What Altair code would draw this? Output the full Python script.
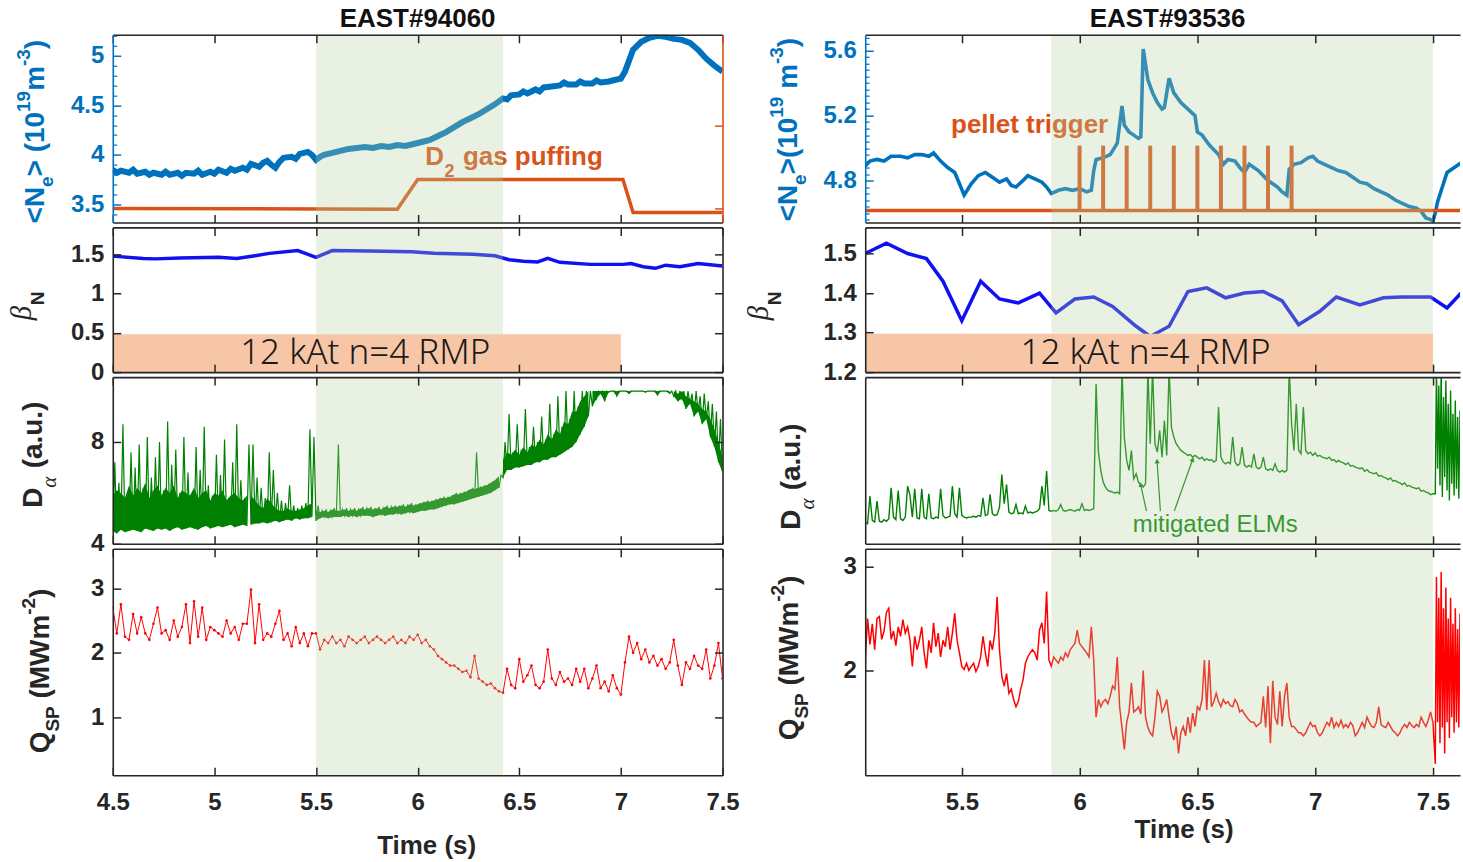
import altair as alt
import pandas as pd

# ---------------- styling ----------------
FONT = "Liberation Sans"
SERIF = "Liberation Serif"
DARK = "#262626"
NE_BLUE = "#0072BD"
ORANGE = "#D95319"
BETA_BLUE = "#1010F0"
GREEN = "#008000"
RED = "#FF0000"
SHADE = "#B3D2A0"
SHADE_OPACITY = 0.3
RMP_FILL = "#F7C6A6"
TICK = 8
LABEL_SIZE = 24

# ---------------- time axes ----------------
T_RANGE_L = [4.5, 7.5]
T_RANGE_R = [5.09, 7.615]
T_TICKS_L = [4.5, 5, 5.5, 6, 6.5, 7, 7.5]
T_TICKS_R = [5.5, 6, 6.5, 7, 7.5]
PHASE_L = [5.5, 6.42]
PHASE_R = [5.88, 7.5]

# ---------------- EAST#94060 ----------------
NE_L_DOM = [3.319, 5.211]
NE_L_TICKS = [3.5, 4, 4.5, 5]
NE_L_MINOR = [3.4, 3.6, 3.7, 3.8, 3.9, 4.1, 4.2, 4.3, 4.4, 4.6, 4.7, 4.8, 4.9, 5.1, 5.2]
NE_94060 = [
    (4.50, 3.85), (4.52, 3.82), (4.54, 3.84), (4.58, 3.82), (4.60, 3.85), (4.62, 3.81),
    (4.66, 3.83), (4.68, 3.80), (4.70, 3.82), (4.74, 3.80), (4.76, 3.83), (4.78, 3.80),
    (4.82, 3.82), (4.84, 3.79), (4.86, 3.82), (4.90, 3.81), (4.92, 3.84), (4.94, 3.80),
    (4.98, 3.83), (5.00, 3.81), (5.02, 3.85), (5.06, 3.82), (5.08, 3.86), (5.10, 3.84),
    (5.14, 3.87), (5.16, 3.85), (5.18, 3.91), (5.22, 3.88), (5.24, 3.92), (5.26, 3.94),
    (5.28, 3.90), (5.30, 3.87), (5.32, 3.93), (5.34, 3.97), (5.38, 3.98), (5.40, 3.96),
    (5.42, 4.01), (5.46, 4.03), (5.48, 4.00), (5.50, 3.95), (5.52, 3.98), (5.54, 4.00),
    (5.58, 4.02), (5.62, 4.04), (5.66, 4.06), (5.70, 4.07), (5.74, 4.08), (5.78, 4.07),
    (5.82, 4.09), (5.86, 4.08), (5.90, 4.10), (5.94, 4.09), (5.98, 4.11), (6.02, 4.13),
    (6.06, 4.15), (6.10, 4.19), (6.14, 4.23), (6.18, 4.28), (6.22, 4.33), (6.26, 4.37),
    (6.30, 4.41), (6.34, 4.46), (6.38, 4.51), (6.42, 4.57), (6.44, 4.56), (6.46, 4.60),
    (6.50, 4.61), (6.52, 4.64), (6.54, 4.62), (6.58, 4.66), (6.60, 4.64), (6.62, 4.68),
    (6.66, 4.69), (6.70, 4.70), (6.72, 4.73), (6.74, 4.71), (6.78, 4.71), (6.80, 4.74),
    (6.82, 4.72), (6.86, 4.72), (6.88, 4.75), (6.90, 4.73), (6.94, 4.74), (6.98, 4.76),
    (7.00, 4.77), (7.02, 4.84), (7.06, 5.06), (7.10, 5.14), (7.14, 5.18), (7.18, 5.20),
    (7.22, 5.19), (7.26, 5.17), (7.30, 5.16), (7.34, 5.13), (7.38, 5.06), (7.42, 4.97),
    (7.46, 4.90), (7.50, 4.84),
]
GAS_DOM = [-0.169, 2.096]
GAS_TICKS = [0, 1]
GAS_94060 = [(4.50, 0.0), (5.90, -0.01), (6.00, 0.35), (7.01, 0.35), (7.06, -0.05), (7.50, -0.05)]

BN_L_DOM = [0.0, 1.84]
BN_L_TICKS = [0, 0.5, 1, 1.5]
BETA_94060 = [
    (4.50, 1.475), (4.65, 1.446), (4.71, 1.44), (4.83, 1.45), (5.02, 1.46), (5.11, 1.446),
    (5.20, 1.48), (5.27, 1.51), (5.41, 1.546), (5.50, 1.46), (5.58, 1.546), (5.76, 1.54),
    (5.97, 1.53), (6.08, 1.51), (6.27, 1.50), (6.38, 1.48), (6.45, 1.43), (6.52, 1.41),
    (6.59, 1.40), (6.64, 1.446), (6.70, 1.396), (6.85, 1.37), (7.01, 1.37), (7.05, 1.38),
    (7.11, 1.34), (7.17, 1.32), (7.22, 1.36), (7.29, 1.34), (7.38, 1.38), (7.50, 1.35),
]
RMP_94060 = {"t0": 4.5, "t1": 7.0, "lo": 0.0, "hi": 0.48}
RMP_TEXT = "12 kAt n=4 RMP"
RMP_TEXT_94060 = (5.742, 0.24)

DA_L_DOM = [4.0, 10.55]
DA_L_TICKS = [4, 8]
DA_STEP = 0.02
# per 20 ms bin: (start time, minimum, maximum, top of the dense band)
DA_SAT = [10.0, 10.0, 10.0, 10.0, 10.0, 10.0, 10.0, 10.0, 10.0, 10.0, 10.0, 10.0, 10.0, 10.0,
          10.0, 10.0, 10.0, 10.0, 10.0, 10.0]
DA_94060 = [
    (4.50,
     [4.5, 4.4, 4.55, 4.45, 4.5, 4.55, 4.5, 4.45, 4.6, 4.55, 4.5, 4.6, 4.55, 4.6, 4.5, 4.6, 4.65,
      4.55, 4.6, 4.65, 4.6, 4.55, 4.65, 4.7, 4.6, 4.65, 4.7, 4.65, 4.7, 4.75, 4.65, 4.7, 4.75, 4.7],
     [7.2, 6.4, 8.7, 5.9, 7.6, 7.0, 7.9, 6.2, 8.2, 6.6, 7.4, 8.0, 6.1, 8.8, 7.1, 7.7, 6.0,
      8.2, 6.8, 6.0, 7.8, 6.9, 8.6, 6.3, 5.9, 7.5, 6.7, 8.1, 5.8, 7.2, 8.7, 6.5, 5.8, 7.9],
     [5.9, 6.1, 6.0, 5.8, 6.3, 5.9, 6.2, 6.0, 6.4, 5.8, 6.1, 6.3, 5.9, 6.2, 6.0, 6.3, 5.8,
      6.1, 6.0, 5.9, 6.2, 5.8, 6.0, 6.1, 5.7, 6.0, 5.9, 6.1, 5.7, 5.9, 6.0, 5.8, 5.7, 5.9]),
    (5.18,
     [4.75, 4.8, 4.8, 4.85, 4.8, 4.85, 4.9, 4.85, 4.9, 4.95, 4.9, 5.0, 4.95, 5.0, 5.0, 5.05],
     [7.9, 6.6, 6.2, 5.8, 7.6, 6.9, 6.0, 5.7, 5.6, 6.3, 5.5, 5.4, 5.5, 5.6, 8.5, 8.2],
     [5.9, 5.7, 5.5, 5.4, 5.8, 5.6, 5.4, 5.3, 5.3, 5.4, 5.3, 5.3, 5.35, 5.4, 5.5, 5.6]),
    (5.50,
     [4.9, 5.0, 5.05, 5.0, 5.05, 5.05, 5.05, 5.1, 5.05, 5.1, 5.05, 5.1, 5.1, 5.1, 5.05, 5.1,
      5.15, 5.1, 5.15, 5.15, 5.2, 5.15, 5.2, 5.25, 5.2, 5.25, 5.3, 5.3, 5.35, 5.35, 5.4, 5.45,
      5.5, 5.55, 5.55, 5.6, 5.65, 5.7, 5.75, 5.8, 5.85, 5.9, 5.95, 6.0, 6.1, 6.2],
     [5.5, 5.3, 5.35, 5.3, 5.4, 7.9, 5.35, 5.4, 5.35, 5.4, 5.35, 5.45, 5.4, 5.45, 5.4, 5.45,
      5.4, 5.5, 5.45, 5.5, 5.5, 5.55, 5.5, 5.6, 5.55, 5.6, 5.65, 5.7, 5.7, 5.75, 5.8, 5.85,
      5.85, 5.9, 6.0, 6.0, 6.05, 6.1, 6.2, 7.6, 6.25, 6.3, 6.35, 6.45, 6.55, 6.7],
     [5.3, 5.25, 5.3, 5.25, 5.35, 5.3, 5.3, 5.35, 5.3, 5.35, 5.3, 5.4, 5.35, 5.4, 5.35, 5.4,
      5.35, 5.45, 5.4, 5.45, 5.45, 5.5, 5.45, 5.55, 5.5, 5.55, 5.6, 5.65, 5.65, 5.7, 5.75, 5.8,
      5.8, 5.85, 5.95, 5.95, 6.0, 6.05, 6.15, 6.15, 6.2, 6.25, 6.3, 6.4, 6.5, 6.65]),
    (6.42,
     [6.6, 6.9, 6.9, 7.0, 7.0, 7.05, 7.1, 7.1, 7.2, 7.2, 7.3, 7.3, 7.4, 7.4, 7.5, 7.6, 7.7,
      7.8, 8.0, 8.3, 8.6, 9.0],
     [8.0, 9.1, 7.6, 8.7, 7.7, 9.3, 7.8, 8.6, 8.0, 9.0, 8.1, 9.5, 8.3, 9.8, 8.6, 10.0, 8.9,
      10.0, 9.4, 10.0, 10.0, 10.0],
     [7.3, 7.6, 7.5, 7.7, 7.5, 7.8, 7.6, 7.9, 7.8, 8.1, 7.9, 8.3, 8.1, 8.5, 8.3, 8.8, 8.7,
      9.2, 9.2, 9.6, 9.8, 10.0]),
    (6.86,
     [9.4, 9.7, 9.9, 9.6, 9.95, 10.0, 9.8, 10.0, 10.0, 9.9, 10.0, 10.0, 10.0, 9.95, 10.0, 10.0,
      9.85, 10.0, 10.0, 9.9],
     DA_SAT,
     DA_SAT),
    (7.26,
     [9.8, 9.6, 9.7, 9.3, 9.5, 9.0, 9.2, 8.7, 8.9, 8.2, 7.8, 7.2, 6.8],
     [10.0, 10.0, 10.0, 10.0, 9.9, 10.0, 9.8, 9.9, 9.6, 9.5, 9.2, 8.9, 8.0],
     [10.0, 9.9, 10.0, 9.8, 9.7, 9.6, 9.5, 9.3, 9.2, 8.9, 8.5, 8.0, 7.4]),
]

Q_L_DOM = [0.096, 3.615]
Q_L_TICKS = [1, 2, 3]
Q_STEP_L = 0.02
Q_94060 = [
    (4.50, [2.7, 2.3, 2.75, 2.25, 2.2, 2.6, 2.3, 2.55, 2.3, 2.2, 2.45, 2.7, 2.3, 2.35, 2.2, 2.5,
            2.25, 2.4, 2.75, 2.15, 2.8, 2.25, 2.7, 2.2, 2.4, 2.35, 2.3, 2.25, 2.5, 2.3, 2.4, 2.2,
            2.45, 2.45, 2.98, 2.15, 2.75, 2.2, 2.3, 2.25, 2.45, 2.65, 2.2, 2.3, 2.1, 2.4, 2.15,
            2.3, 2.1, 2.3]),
    (5.50, [2.3, 2.05, 2.2, 2.15, 2.25, 2.15, 2.2, 2.1, 2.25, 2.2, 2.15, 2.2, 2.25, 2.15, 2.2,
            2.25, 2.2, 2.15, 2.2, 2.25, 2.15, 2.2, 2.15, 2.25, 2.2, 2.28, 2.15, 2.2]),
    (6.06, [2.1, 2.05, 1.95, 1.9, 1.85, 1.8, 1.8, 1.75, 1.7, 1.72, 1.62, 1.95, 1.6, 1.55, 1.5,
            1.52, 1.45, 1.4, 1.38]),
    (6.44, [1.75, 1.5, 1.45, 1.9, 1.55, 1.65, 1.8, 1.5, 1.45, 1.55, 2.05, 1.6, 1.5, 1.7, 1.55,
            1.6, 1.5, 1.75, 1.55, 1.75, 1.45, 1.6, 1.8, 1.45, 1.55, 1.4, 1.65, 1.45, 1.35]),
    (7.02, [1.85, 2.25, 2.0, 2.15, 1.9, 2.05, 1.85, 1.95, 1.8, 1.9, 1.75, 1.85, 2.2, 1.8, 1.5,
            1.85, 1.75, 1.95, 1.8, 1.75, 2.05, 1.6, 1.8, 2.15, 1.6]),
]

# ---------------- EAST#93536 ----------------
NE_R_DOM = [4.542, 5.698]
NE_R_TICKS = [4.8, 5.2, 5.6]
NE_R_MINOR = [4.56, 4.60, 4.64, 4.68, 4.72, 4.76, 4.84, 4.88, 4.92, 4.96, 5.00, 5.04, 5.08,
              5.12, 5.16, 5.24, 5.28, 5.32, 5.36, 5.40, 5.44, 5.48, 5.52, 5.56, 5.64, 5.68]
NE_93536 = [
    (5.09, 4.89), (5.11, 4.92), (5.14, 4.93), (5.17, 4.92), (5.20, 4.95), (5.24, 4.95),
    (5.27, 4.94), (5.30, 4.96), (5.33, 4.96), (5.36, 4.95), (5.38, 4.97), (5.41, 4.92),
    (5.44, 4.88), (5.47, 4.85), (5.49, 4.78), (5.51, 4.71), (5.54, 4.78), (5.57, 4.83),
    (5.60, 4.85), (5.63, 4.82), (5.66, 4.79), (5.69, 4.81), (5.71, 4.77), (5.73, 4.76),
    (5.76, 4.80), (5.78, 4.83), (5.81, 4.81), (5.84, 4.79), (5.86, 4.76), (5.88, 4.72),
    (5.91, 4.74), (5.94, 4.75), (5.97, 4.74), (6.00, 4.75), (6.03, 4.73), (6.05, 4.74),
    (6.06, 4.86), (6.07, 4.93), (6.10, 4.94), (6.13, 4.96), (6.16, 5.03), (6.18, 5.26),
    (6.19, 5.14), (6.21, 5.10), (6.23, 5.08), (6.25, 5.06), (6.26, 5.07), (6.27, 5.61),
    (6.29, 5.42), (6.31, 5.34), (6.33, 5.28), (6.35, 5.24), (6.36, 5.25), (6.38, 5.43),
    (6.40, 5.34), (6.43, 5.28), (6.46, 5.24), (6.49, 5.20), (6.50, 5.10), (6.52, 5.08),
    (6.55, 5.02), (6.57, 4.99), (6.59, 4.96), (6.61, 4.90), (6.63, 4.93), (6.66, 4.92),
    (6.68, 4.88), (6.70, 4.85), (6.72, 4.90), (6.74, 4.88), (6.76, 4.86), (6.78, 4.83),
    (6.80, 4.80), (6.82, 4.78), (6.84, 4.76), (6.86, 4.73), (6.88, 4.71), (6.89, 4.87),
    (6.91, 4.90), (6.94, 4.91), (6.97, 4.94), (6.99, 4.95), (7.01, 4.92), (7.04, 4.90),
    (7.07, 4.88), (7.10, 4.86), (7.13, 4.85), (7.16, 4.82), (7.19, 4.79), (7.22, 4.78),
    (7.25, 4.75), (7.28, 4.73), (7.31, 4.71), (7.34, 4.68), (7.37, 4.66), (7.40, 4.64),
    (7.43, 4.63), (7.45, 4.61), (7.47, 4.57), (7.49, 4.56), (7.50, 4.55), (7.51, 4.60),
    (7.52, 4.67), (7.54, 4.76), (7.56, 4.85), (7.58, 4.87), (7.60, 4.89), (7.62, 4.91),
]
PELLET_BASE = 4.615
PELLET_TOP = 5.015
PELLET_TIMES = [6.0, 6.1, 6.2, 6.3, 6.4, 6.5, 6.6, 6.7, 6.8, 6.9]

BN_R_DOM = [1.2, 1.566]
BN_R_TICKS = [1.2, 1.3, 1.4, 1.5]
BETA_93536 = [
    (5.09, 1.50), (5.18, 1.526), (5.27, 1.50), (5.35, 1.487), (5.42, 1.43), (5.50, 1.33),
    (5.58, 1.43), (5.66, 1.385), (5.74, 1.375), (5.83, 1.40), (5.90, 1.35), (5.98, 1.385),
    (6.06, 1.39), (6.14, 1.366), (6.24, 1.316), (6.30, 1.29), (6.38, 1.316), (6.46, 1.404),
    (6.54, 1.413), (6.62, 1.388), (6.70, 1.40), (6.78, 1.404), (6.86, 1.38), (6.93, 1.32),
    (7.02, 1.354), (7.09, 1.39), (7.19, 1.37), (7.29, 1.388), (7.37, 1.39), (7.49, 1.39),
    (7.56, 1.362), (7.62, 1.40),
]
RMP_93536 = {"t0": 5.09, "t1": 7.5, "lo": 1.2, "hi": 1.297}
RMP_TEXT_93536 = (6.28, 1.248)

DA_R_DOM = [0.0, 10.0]
DA_R_STEP = 0.01
DA_93536 = [
    (5.09, [1.3, 1.2, 2.86, 1.4, 1.3, 2.56, 1.35, 1.3, 1.45, 1.35,
            1.5, 3.36, 1.6, 1.45, 3.2, 1.5, 1.4, 1.6, 3.46, 2.9,
            1.6, 3.3, 1.55, 1.5, 3.3, 1.6, 1.5, 3.0, 1.55, 1.5,
            1.6, 1.55, 3.3, 1.7, 1.55, 1.6, 1.65, 3.46, 1.8, 1.6,
            3.36, 1.7, 1.6, 1.55, 1.6, 1.6, 1.65, 1.6, 1.7, 1.65,
            2.76, 1.7, 1.75, 2.96, 1.8, 1.7, 1.75, 2.2, 4.16, 2.4,
            3.56, 1.9, 1.8, 1.85, 2.36, 1.8, 1.85, 1.8, 2.26, 1.85,
            1.9, 1.85, 1.9, 1.95, 2.1, 3.46, 2.3, 4.36, 2.0]),
    (5.88, [1.95, 2.0, 1.95, 2.05, 2.36, 2.0, 1.95, 2.0, 2.05, 2.0, 1.95, 2.05, 2.0, 2.4, 2.0,
            2.05, 2.0, 2.05]),
    (6.06, [2.1, 9.6, 5.5, 4.4, 3.7, 3.4, 3.2, 3.15, 3.1, 3.05,
            3.1, 3.0, 10.5, 6.4, 5.0, 4.4, 5.6, 3.9, 4.2, 3.7,
            3.56, 3.4, 3.6, 10.5, 6.0, 10.5, 6.0, 5.5, 6.8, 5.2,
            7.4, 5.3, 10.5, 7.0, 6.4, 6.0, 5.8, 5.6, 5.5, 5.4,
            5.3, 5.35, 5.2, 5.3, 5.2, 5.1, 5.2, 5.0, 5.1, 5.0,
            5.05, 4.9, 5.0, 8.2, 5.2, 4.9, 4.8, 4.9, 4.8, 6.4,
            4.9, 4.7, 4.8, 5.8, 4.7, 4.6, 4.7, 4.6, 5.4, 4.6,
            4.5, 4.6, 5.2, 4.5, 4.4, 4.5, 4.4, 4.8, 4.4, 4.3,
            4.4, 4.3, 4.4, 10.5, 7.2]),
    (6.91, [5.6, 8.4, 5.6, 5.4, 8.2, 5.6, 5.4, 5.5, 5.3, 5.45,
            5.25, 5.3, 5.2, 5.15, 5.1, 5.2, 5.0, 5.05, 4.9, 5.0,
            4.9, 4.85, 4.75, 4.85, 4.65, 4.7, 4.6, 4.55, 4.5, 4.55,
            4.35, 4.45, 4.3, 4.25, 4.2, 4.25, 4.05, 4.1, 4.0, 3.95,
            3.85, 3.95, 3.75, 3.8, 3.7, 3.65, 3.55, 3.65, 3.45, 3.5,
            3.4, 3.35, 3.3, 3.35, 3.15, 3.2, 3.1, 3.05, 2.95, 3.0]),
]
DA_93536_TAIL = (7.51,
                 [3.0, 4.5, 3.5, 2.8, 4.0, 3.2, 2.6, 3.6, 2.9, 3.3, 2.7, 3.0],
                 [10.5, 9.5, 10.5, 8.8, 9.8, 8.4, 9.2, 7.8, 8.6, 7.6, 8.0, 7.4])
ELM_LABEL = ("mitigated ELMs", 6.576, 1.14)
ELM_ARROWS = [
    # start t, start v, tip t, tip v, head angle
    (6.284, 1.96, 6.259, 3.56, 347.5),
    (6.343, 1.96, 6.329, 4.96, 356.0),
    (6.402, 1.96, 6.480, 5.06, 19.5),
]

Q_R_DOM = [0.99, 3.173]
Q_R_TICKS = [2, 3]
Q_R_STEP = 0.01
Q_93536 = [
    (5.09, [2.1, 2.5, 2.25, 2.45, 2.2, 2.5, 2.52, 2.3, 2.38, 2.56, 2.6, 2.3, 2.38, 2.24, 2.42,
            2.33, 2.49, 2.36, 2.42, 2.29, 2.04, 2.33, 2.2, 2.29, 2.42, 2.17, 2.02, 2.29, 2.17,
            2.46, 2.23, 2.36, 2.13, 2.29, 2.23, 2.42, 2.2, 2.36, 2.55, 2.29, 2.17, 2.04]),
    (5.51, [2.01, 2.07, 2.0, 2.04, 2.07, 1.99, 2.04, 2.13, 2.33, 2.17, 2.04, 2.29, 2.2, 2.36,
            2.71, 2.2, 1.94, 1.85, 1.97, 1.78, 1.82, 1.72, 1.65, 1.7, 1.82, 1.91, 2.07, 2.13,
            2.17, 2.2, 2.17, 2.1, 2.39, 2.46, 2.26, 2.76, 2.1, 2.04]),
    (5.89, [2.13, 2.1, 2.07, 2.13, 2.1, 2.17, 2.13, 2.2, 2.23, 2.26, 2.39, 2.26, 2.23, 2.2,
            2.17, 2.13, 2.42, 2.1, 1.55]),
    (6.08, [1.72, 1.65, 1.7, 1.72, 1.68, 1.75, 1.85, 1.82, 2.13, 1.65, 1.45, 1.24, 1.5, 1.6,
            1.88, 1.6, 1.62, 1.65, 1.58, 2.0, 1.55, 1.45, 1.4, 1.37, 1.55, 1.8, 1.75, 1.6, 1.65,
            1.72, 1.55, 1.4, 1.33, 1.46, 1.2, 1.4, 1.46, 1.37, 1.55, 1.4, 1.59, 1.46, 1.65]),
    (6.51, [1.62, 1.72, 2.1, 1.62, 2.1, 1.65, 1.7, 1.78, 1.7, 1.65, 1.72, 1.68, 1.7, 1.66,
            1.65, 1.72, 1.68, 1.6, 1.62, 1.58, 1.55, 1.52, 1.5, 1.5, 1.46, 1.48, 1.5, 1.75,
            1.45, 1.85, 1.3, 1.9, 1.55, 1.48, 1.8, 1.46, 1.75, 1.88, 1.55, 1.46, 1.46, 1.43,
            1.4, 1.4, 1.37, 1.4, 1.45, 1.5, 1.46, 1.47]),
    (7.01, [1.4, 1.37, 1.4, 1.45, 1.5, 1.47, 1.55, 1.45, 1.5, 1.46, 1.52, 1.45, 1.48, 1.45,
            1.5, 1.47, 1.37, 1.4, 1.45, 1.5, 1.45, 1.55, 1.5, 1.46, 1.45, 1.5, 1.65, 1.48,
            1.46, 1.45, 1.5, 1.46, 1.42, 1.4, 1.37, 1.4, 1.45, 1.48, 1.45, 1.5, 1.47, 1.45,
            1.48, 1.46, 1.55, 1.5, 1.46, 1.52, 1.6, 1.5]),
]
Q_93536_TAIL = (7.51,
                [1.1, 1.5, 1.3, 1.45, 1.2, 1.5, 1.35, 1.55, 1.4, 1.5, 1.45, 1.55],
                [2.9, 2.7, 2.95, 2.6, 2.8, 2.5, 2.7, 2.45, 2.6, 2.4, 2.55, 2.35])

# ---------------- table builders ----------------
ONE = pd.DataFrame({"k": [0]})


def pairs_df(pairs):
    return pd.DataFrame(pairs, columns=["t", "v"])


def grid_rows(segments, step):
    rows = []
    for start, values in segments:
        rows += [(round(start + i * step, 4), v) for i, v in enumerate(values)]
    return rows


def envelope_rows(segments, step):
    # each sampling bin contributes its minimum then its maximum
    rows = []
    for seg in segments:
        start, lows, highs = seg[0], seg[1], seg[2]
        for i, (lo, hi) in enumerate(zip(lows, highs)):
            t = start + i * step
            rows.append((round(t, 4), lo))
            rows.append((round(t + step / 2, 4), hi))
    return rows


def band_rows(segments, step):
    # dense part of the trace: from the bin minimum up to the top of the band
    rows = []
    for k, (start, lows, _, core) in enumerate(segments):
        for i, (lo, top) in enumerate(zip(lows, core)):
            rows.append((k, round(start + i * step, 4), lo, top))
    return pd.DataFrame(rows, columns=["seg", "t", "lo", "top"])


def xenc(dom, field="t", axis=None):
    return alt.X(f"{field}:Q", scale=alt.Scale(domain=dom, nice=False, zero=False), axis=axis)


def yenc(dom, field="v", axis=None):
    return alt.Y(f"{field}:Q", scale=alt.Scale(domain=dom, nice=False, zero=False), axis=axis)


def line(df, xdom, ydom, color, width, **kw):
    return alt.Chart(df).mark_line(color=color, strokeWidth=width, clip=True, **kw).encode(
        x=xenc(xdom), y=yenc(ydom))


def shade(xdom, phase):
    df = pd.DataFrame({"t0": [phase[0]], "t1": [phase[1]]})
    return alt.Chart(df).mark_rect(color=SHADE, opacity=SHADE_OPACITY).encode(
        x=xenc(xdom, "t0"), x2="t1:Q")


def rmp_bar(xdom, ydom, bar, label_pos):
    df = pd.DataFrame([bar])
    rect = alt.Chart(df).mark_rect(color=RMP_FILL).encode(
        x=xenc(xdom, "t0"), x2="t1:Q", y=yenc(ydom, "lo"), y2="hi:Q")
    txt = alt.Chart(pd.DataFrame({"t": [label_pos[0]], "v": [label_pos[1]]})).mark_text(
        text=RMP_TEXT, font="Noto Sans", fontSize=35, fontWeight=300, color="#1a1a1a",
        align="center", baseline="middle").encode(x=xenc(xdom), y=yenc(ydom))
    return [rect, txt]


def note(xdom, ydom, text, t, v, color, size, weight="bold", align="left"):
    return alt.Chart(pd.DataFrame({"t": [t], "v": [v]})).mark_text(
        text=text, font=FONT, fontSize=size, fontWeight=weight, color=color,
        align=align, baseline="middle").encode(x=xenc(xdom), y=yenc(ydom))


def axis_layers(xdom, ydom, xticks, yticks, *, xlab=False, ycolor=DARK, rdom=None, rticks=None,
                rcolor=DARK, right=True, minor=None, title_x=None, title_y=None):
    rdom = ydom if rdom is None else rdom
    rticks = yticks if rticks is None else rticks
    lab = dict(labelFont=FONT, labelFontSize=LABEL_SIZE, labelFontWeight="bold",
               labelFlush=False, labelOverlap=False, format="~g")
    tk = dict(offset=-TICK, tickSize=TICK, tickWidth=1.5, domain=False, grid=False, zindex=2)
    if xlab:
        bottom = alt.Axis(orient="bottom", values=xticks, tickColor=DARK, labels=True,
                          labelColor=DARK, labelPadding=15, title="Time (s)", titleFont=FONT,
                          titleFontSize=26, titleFontWeight="bold", titleColor=DARK,
                          titleX=title_x, titleY=title_y, titleAlign="center",
                          titleBaseline="middle", **lab, **tk)
    else:
        bottom = alt.Axis(orient="bottom", values=xticks, tickColor=DARK, labels=False,
                          title=None, **tk)
    left = None
    if yticks:
        left = alt.Axis(orient="left", values=yticks, tickColor=ycolor, labels=True,
                        labelColor=ycolor, labelPadding=9, title=None, **lab, **tk)
    top = alt.Axis(orient="top", values=xticks, tickColor=DARK, labels=False, title=None, **tk)
    rax = None
    if right and rticks:
        rax = alt.Axis(orient="right", values=rticks, tickColor=rcolor, labels=False,
                       title=None, **tk)

    dm = dict(domain=True, domainWidth=1.6, ticks=False, labels=False, grid=False,
              title=None, zindex=2)
    frame = pd.DataFrame({"t": xdom, "v": ydom})
    rframe = pd.DataFrame({"t": xdom, "v": rdom})
    layers = [
        alt.Chart(frame).mark_point(opacity=0).encode(
            x=xenc(xdom, axis=bottom), y=yenc(ydom, axis=left)),
        alt.Chart(rframe).mark_point(opacity=0).encode(
            x=xenc(xdom, axis=top), y=yenc(rdom, axis=rax)),
        alt.Chart(frame).mark_point(opacity=0).encode(
            x=xenc(xdom, axis=alt.Axis(orient="bottom", domainColor=DARK, **dm)),
            y=yenc(ydom, axis=alt.Axis(orient="left", domainColor=ycolor, **dm))),
        alt.Chart(rframe).mark_point(opacity=0).encode(
            x=xenc(xdom, axis=alt.Axis(orient="top", domainColor=DARK, **dm)),
            y=yenc(rdom, axis=alt.Axis(orient="right", domainColor=rcolor, **dm) if right else None)),
    ]
    if minor:
        layers.append(alt.Chart(frame).mark_point(opacity=0).encode(
            x=xenc(xdom),
            y=yenc(ydom, axis=alt.Axis(orient="left", values=minor, offset=-4, tickSize=4,
                                       tickColor=ycolor, tickWidth=1.2, domain=False,
                                       labels=False, grid=False, title=None, zindex=2))))
    return layers


# --- rotated y-axis titles assembled from pieces (sub/superscripts shifted sideways) ---
W_BOLD = {"<": .584, ">": .584, "N": .722, "e": .556, " ": .278, "(": .333, ")": .333,
          "0": .556, "1": .556, "2": .556, "3": .556, "9": .556, "m": .889, "-": .333,
          "D": .722, "a": .556, ".": .278, "u": .611, "Q": .778, "S": .667, "P": .667,
          "M": .833, "W": .944}
W_ITALIC = {"β": .52, "α": .55}
MAIN, SCRIPT = 28, 19


def text_width(s, size, table):
    return sum(table.get(ch, 0.556) for ch in s) * size


def vtitle(pieces, x, y, color=DARK):
    out = []
    for txt, dx, size, font, style, weight in pieces:
        table = W_BOLD if font == FONT else W_ITALIC
        stripped = txt.lstrip(" ")
        y -= text_width(txt[:len(txt) - len(stripped)], size, table)
        out.append(alt.Chart(ONE).mark_text(
            text=stripped, angle=270, align="left", baseline="middle", font=font,
            fontSize=size, fontStyle=style, fontWeight=weight, color=color).encode(
            x=alt.value(x + dx), y=alt.value(y)))
        y -= text_width(stripped, size, table)
    return out


def ne_title(x, y, gap_before_paren):
    return vtitle([
        ("<N", 0, MAIN, FONT, "normal", "bold"),
        ("e", 11, SCRIPT, FONT, "normal", "bold"),
        (">" + (" (10" if gap_before_paren else "(10"), 0, MAIN, FONT, "normal", "bold"),
        ("19", -12, SCRIPT, FONT, "normal", "bold"),
        ("m" if gap_before_paren else " m", 0, MAIN, FONT, "normal", "bold"),
        ("-3", -12, SCRIPT, FONT, "normal", "bold"),
        (")", 0, MAIN, FONT, "normal", "bold"),
    ], x, y, NE_BLUE)


def beta_title(x, y):
    return vtitle([
        ("β", 0, 29, SERIF, "italic", "normal"),
        ("N", 16, SCRIPT, FONT, "normal", "bold"),
    ], x, y)


def da_title(x, y):
    return vtitle([
        ("D", 0, MAIN, FONT, "normal", "bold"),
        ("α", 16, 21, SERIF, "italic", "normal"),
        (" (a.u.)", 0, MAIN, FONT, "normal", "bold"),
    ], x, y)


def q_title(x, y):
    return vtitle([
        ("Q", 0, MAIN, FONT, "normal", "bold"),
        ("SP", 12, SCRIPT, FONT, "normal", "bold"),
        (" (MWm", 0, MAIN, FONT, "normal", "bold"),
        ("-2", -12, SCRIPT, FONT, "normal", "bold"),
        (")", 0, MAIN, FONT, "normal", "bold"),
    ], x, y)


def panel(layers, width, height, title=None):
    ch = alt.layer(*layers).resolve_scale(y="independent").resolve_axis(
        x="independent", y="independent").properties(width=width, height=height)
    if title is not None:
        ch = ch.properties(title=title)
    return ch


def shot_title(text, dx):
    return alt.TitleParams(text=text, font=FONT, fontSize=26, fontWeight="bold",
                           color="#111111", anchor="middle", offset=0, dx=dx)


W_L, W_R = 611, 596
H1, H2, H3, H4 = 188, 145, 167, 227

# ---------------- left column: EAST#94060 ----------------
ne_l = panel([
    line(pairs_df(NE_94060), T_RANGE_L, NE_L_DOM, NE_BLUE, 6),
    line(pairs_df(GAS_94060), T_RANGE_L, GAS_DOM, ORANGE, 3.5),
    note(T_RANGE_L, NE_L_DOM, "D", 6.037, 3.98, ORANGE, 26),
    note(T_RANGE_L, NE_L_DOM, "2", 6.132, 3.83, ORANGE, 18),
    note(T_RANGE_L, NE_L_DOM, "gas puffing", 6.223, 3.98, ORANGE, 26),
    shade(T_RANGE_L, PHASE_L),
    *axis_layers(T_RANGE_L, NE_L_DOM, T_TICKS_L, NE_L_TICKS, ycolor=NE_BLUE, rdom=GAS_DOM,
                 rticks=GAS_TICKS, rcolor=ORANGE, minor=NE_L_MINOR),
    *ne_title(-77, 189, True),
], W_L, H1, shot_title("EAST#94060", 0))

bn_l = panel([
    line(pairs_df(BETA_94060), T_RANGE_L, BN_L_DOM, BETA_BLUE, 3.5),
    shade(T_RANGE_L, PHASE_L),
    *rmp_bar(T_RANGE_L, BN_L_DOM, RMP_94060, RMP_TEXT_94060),
    *axis_layers(T_RANGE_L, BN_L_DOM, T_TICKS_L, BN_L_TICKS),
    *beta_title(-91, 93),
], W_L, H2)

da_band = alt.Chart(band_rows(DA_94060, DA_STEP)).mark_area(color=GREEN, clip=True).encode(
    x=xenc(T_RANGE_L), y=yenc(DA_L_DOM, "lo"), y2="top:Q", detail="seg:N")
da_l = panel([
    da_band,
    line(pairs_df(envelope_rows(DA_94060, DA_STEP)), T_RANGE_L, DA_L_DOM, GREEN, 1.2),
    shade(T_RANGE_L, PHASE_L),
    *axis_layers(T_RANGE_L, DA_L_DOM, T_TICKS_L, DA_L_TICKS),
    *da_title(-79, 131),
], W_L, H3)

q_l = panel([
    line(pairs_df(grid_rows(Q_94060, Q_STEP_L)), T_RANGE_L, Q_L_DOM, RED, 1,
         point=alt.OverlayMarkDef(filled=True, size=7, color=RED)),
    shade(T_RANGE_L, PHASE_L),
    *axis_layers(T_RANGE_L, Q_L_DOM, T_TICKS_L, Q_L_TICKS, xlab=True, title_x=314, title_y=78),
    *q_title(-72, 205),
], W_L, H4)

# ---------------- right column: EAST#93536 ----------------
pellets = pd.DataFrame({"t": PELLET_TIMES, "base": PELLET_BASE, "top": PELLET_TOP})
pellet_line = pd.DataFrame({"t": T_RANGE_R, "v": [PELLET_BASE, PELLET_BASE]})
ne_r = panel([
    line(pairs_df(NE_93536), T_RANGE_R, NE_R_DOM, NE_BLUE, 3.6),
    line(pellet_line, T_RANGE_R, NE_R_DOM, ORANGE, 3.5),
    alt.Chart(pellets).mark_rule(color=ORANGE, strokeWidth=4).encode(
        x=xenc(T_RANGE_R), y=yenc(NE_R_DOM, "base"), y2="top:Q"),
    note(T_RANGE_R, NE_R_DOM, "pellet trigger", 5.788, 5.145, ORANGE, 26, align="center"),
    shade(T_RANGE_R, PHASE_R),
    *axis_layers(T_RANGE_R, NE_R_DOM, T_TICKS_R, NE_R_TICKS, ycolor=NE_BLUE, right=False,
                 minor=NE_R_MINOR),
    *ne_title(-76, 187, False),
], W_R, H1, shot_title("EAST#93536", 5))

bn_r = panel([
    line(pairs_df(BETA_93536), T_RANGE_R, BN_R_DOM, BETA_BLUE, 3.5),
    shade(T_RANGE_R, PHASE_R),
    *rmp_bar(T_RANGE_R, BN_R_DOM, RMP_93536, RMP_TEXT_93536),
    *axis_layers(T_RANGE_R, BN_R_DOM, T_TICKS_R, BN_R_TICKS, right=False),
    *beta_title(-106, 93),
], W_R, H2)

arrows = pd.DataFrame(ELM_ARROWS, columns=["t", "v", "t2", "v2", "ang"])
da_r_rows = grid_rows(DA_93536, DA_R_STEP) + envelope_rows([DA_93536_TAIL], DA_R_STEP)
da_r = panel([
    line(pairs_df(da_r_rows), T_RANGE_R, DA_R_DOM, GREEN, 1.4),
    note(T_RANGE_R, DA_R_DOM, ELM_LABEL[0], ELM_LABEL[1], ELM_LABEL[2], GREEN, 24,
         weight="normal", align="center"),
    alt.Chart(arrows).mark_rule(color=GREEN, strokeWidth=1.2).encode(
        x=xenc(T_RANGE_R), y=yenc(DA_R_DOM), x2="t2:Q", y2="v2:Q"),
    alt.Chart(arrows).mark_point(shape="triangle-up", filled=True, size=28, color=GREEN,
                                 opacity=1).encode(
        x=xenc(T_RANGE_R, "t2"), y=yenc(DA_R_DOM, "v2"), angle=alt.Angle("ang:Q", scale=None)),
    shade(T_RANGE_R, PHASE_R),
    *axis_layers(T_RANGE_R, DA_R_DOM, T_TICKS_R, None, right=False),
    *da_title(-73, 153),
], W_R, H3)

q_r_rows = grid_rows(Q_93536, Q_R_STEP) + envelope_rows([Q_93536_TAIL], Q_R_STEP)
q_r = panel([
    line(pairs_df(q_r_rows), T_RANGE_R, Q_R_DOM, RED, 1.5),
    shade(T_RANGE_R, PHASE_R),
    *axis_layers(T_RANGE_R, Q_R_DOM, T_TICKS_R, Q_R_TICKS, xlab=True, right=False,
                 title_x=319, title_y=62),
    *q_title(-75, 192),
], W_R, H4)

chart = alt.concat(
    ne_l, ne_r, bn_l, bn_r, da_l, da_r, q_l, q_r,
    columns=2, spacing={"row": 5, "column": 143}, bounds="flush",
).properties(
    padding={"left": 8, "top": 5, "right": 0, "bottom": 0},
    background="white",
).configure_view(stroke=None)

chart.save("out.html", embed_options={"renderer": "svg", "actions": False})
